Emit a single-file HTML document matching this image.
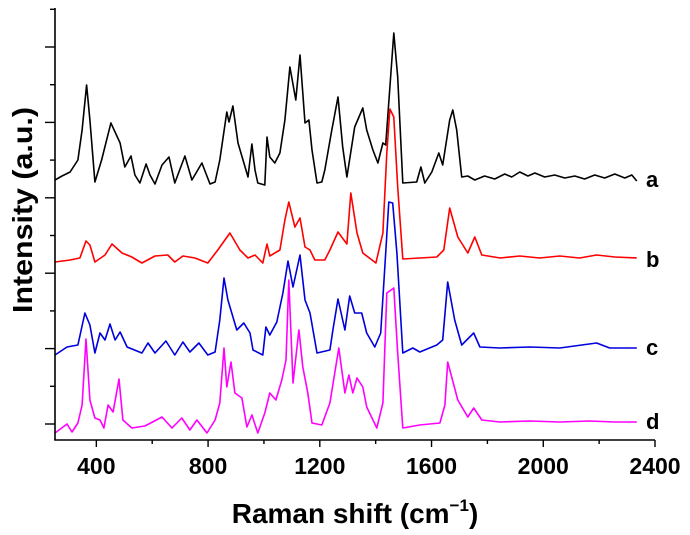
<!DOCTYPE html>
<html><head><meta charset="utf-8"><style>
html,body{margin:0;padding:0;background:#fff;}
svg{display:block;font-family:"Liberation Sans",Arial,sans-serif;}
</style></head><body>
<svg id="chart" width="690" height="535" viewBox="0 0 690 535" xmlns="http://www.w3.org/2000/svg">
<g id="series"></g>
<g id="axes"></g>
<text x="355" y="523" font-size="28" font-weight="bold" text-anchor="middle">Raman shift (cm<tspan font-size="17" dy="-12">−1</tspan><tspan dy="12">)</tspan></text>
<text transform="translate(32,210) rotate(-90)" font-size="28" font-weight="bold" text-anchor="middle" textLength="206" lengthAdjust="spacingAndGlyphs">Intensity (a.u.)</text>
</svg>
<script>
const xTicks=[400,800,1200,1600,2000,2400];
const xMinor=[600,1000,1400,1800,2200];
const yTicks=[16,53.7,91.4,129.1,166.8,204.5,242.2,279.9,317.6,355.3,393,430.7];
const seriesNames=["a","b","c","d"];
const seriesColors=["#000000","#ff0000","#0000dd","#ff00ff"];
const aX=[252,277,306,334,349,365,377,395,419,452,485,502,524,538,556,578,592,610,635,660,681,717,742,778,807,825,842,867,875,889,907,925,943,957,968,978,1003,1011,1021,1039,1057,1075,1093,1114,1129,1147,1161,1172,1190,1207,1218,1243,1265,1282,1297,1325,1354,1368,1390,1408,1426,1436,1451,1465,1479,1497,1547,1562,1576,1601,1626,1640,1665,1676,1690,1708,1730,1755,1790,1826,1862,1887,1916,1945,1970,2005,2041,2077,2113,2148,2184,2220,2256,2292,2317,2335];
const aY=[260,264,268,280,310,355,320,258,280,317,297,273,284,265,257,276,265,256,275,283,257,284,260,277,256,258,280,328,318,334,297,280,263,296,270,257,255,303,283,277,287,320,373,340,385,317,320,290,257,258,270,310,343,293,263,313,332,310,290,277,297,295,353,407,363,257,258,273,257,268,287,275,320,330,310,263,264,260,264,261,266,263,268,264,267,263,265,262,264,261,265,262,266,262,265,259];
const bX=[252,306,341,363,377,395,431,456,492,527,563,610,656,681,710,753,799,835,878,914,943,968,996,1011,1021,1057,1075,1089,1111,1129,1147,1165,1182,1218,1236,1265,1297,1311,1333,1354,1401,1426,1440,1451,1465,1479,1497,1558,1619,1644,1665,1694,1730,1755,1780,1846,1916,1987,2059,2130,2191,2256,2335];
const bY=[178,180,182,199,195,178,185,196,187,183,177,184,185,178,184,182,177,190,207,190,182,185,177,196,184,190,220,238,213,222,193,190,180,180,190,208,196,247,207,187,177,207,287,331,323,253,181,182,183,190,232,203,187,203,185,182,184,182,184,182,185,183,182];
const cX=[252,295,334,359,377,395,413,431,449,467,485,510,563,585,610,649,681,710,735,767,799,825,842,857,871,903,928,950,961,996,1007,1021,1046,1068,1086,1104,1129,1147,1165,1190,1236,1247,1265,1290,1307,1325,1350,1368,1397,1418,1436,1447,1461,1476,1497,1533,1558,1619,1640,1658,1683,1708,1751,1773,1844,1952,2059,2191,2238,2335];
const cY=[85,93,95,127,115,87,107,100,116,100,108,93,87,97,87,99,85,98,88,97,85,88,120,162,140,110,117,107,90,85,113,105,118,147,179,153,185,140,127,87,90,110,141,110,144,127,127,107,93,107,187,238,237,187,87,92,88,95,100,158,120,95,107,93,92,93,92,97,92,92];
const dX=[252,295,313,334,349,363,377,395,413,427,442,460,481,495,527,574,635,671,706,735,760,796,825,842,857,867,882,896,921,939,957,978,1003,1021,1043,1064,1079,1089,1104,1125,1139,1157,1172,1207,1236,1268,1290,1304,1318,1333,1354,1368,1404,1426,1440,1465,1479,1497,1558,1630,1648,1658,1694,1730,1751,1780,1844,1952,2059,2166,2256,2335];
const dY=[7,16,8,17,35,101,40,22,20,12,35,28,61,20,12,14,23,12,22,10,20,7,20,37,92,53,78,47,42,13,25,7,27,47,40,60,80,160,57,110,73,47,17,15,37,92,47,65,47,62,53,33,12,37,147,152,87,12,15,17,35,78,40,23,32,20,18,19,18,19,18,18];
const labelY=[260,180,92,18];

const X0=55,X1=655,D0=252,D1=2400,YB=440;
const xs=v=>X0+(v-D0)*(X1-X0)/(D1-D0);
const ys=v=>YB-v;
const NS="http://www.w3.org/2000/svg";
const mk=(t,a,p)=>{const e=document.createElementNS(NS,t);for(const k in a)e.setAttribute(k,a[k]);p.appendChild(e);return e;};

const sg=document.getElementById('series');
const xsArr=[aX,bX,cX,dX], ysArr=[aY,bY,cY,dY];
xsArr.forEach((X,i)=>{
  const pts=X.map((x,j)=>xs(x).toFixed(1)+","+ys(ysArr[i][j]).toFixed(1)).join(" ");
  const pl=mk('polyline',{points:pts,fill:'none',stroke:seriesColors[i],'stroke-width':1.6,'stroke-linejoin':'round'},sg);
  
  
  const t=mk('text',{x:646,y:ys(labelY[i])+7,'font-size':22,'font-weight':'bold'},sg);
  t.textContent=seriesNames[i];
  
  
});

const ag=document.getElementById('axes');
const yl=mk('line',{x1:X0,y1:8,x2:X0,y2:YB,stroke:'#000','stroke-width':1.6},ag);


const xl=mk('line',{x1:X0-0.8,y1:YB,x2:X1,y2:YB,stroke:'#000','stroke-width':1.6},ag);


yTicks.forEach((v,i)=>{
  const len=(i%2===0)?10:5;
  const t=mk('line',{x1:X0-len,y1:ys(v),x2:X0,y2:ys(v),stroke:'#000','stroke-width':1.4},ag);
  
  
});
xTicks.forEach(v=>{
  const t=mk('line',{x1:xs(v),y1:YB,x2:xs(v),y2:YB+7,stroke:'#000','stroke-width':1.4},ag);
  
  
  const l=mk('text',{x:xs(v),y:474,'font-size':23,'font-weight':'bold','text-anchor':'middle'},ag);
  l.textContent=v;
  
  
});
xMinor.forEach(v=>{
  const t=mk('line',{x1:xs(v),y1:YB,x2:xs(v),y2:YB+4,stroke:'#000','stroke-width':1.4},ag);
  
  
});
</script>
</body></html>
